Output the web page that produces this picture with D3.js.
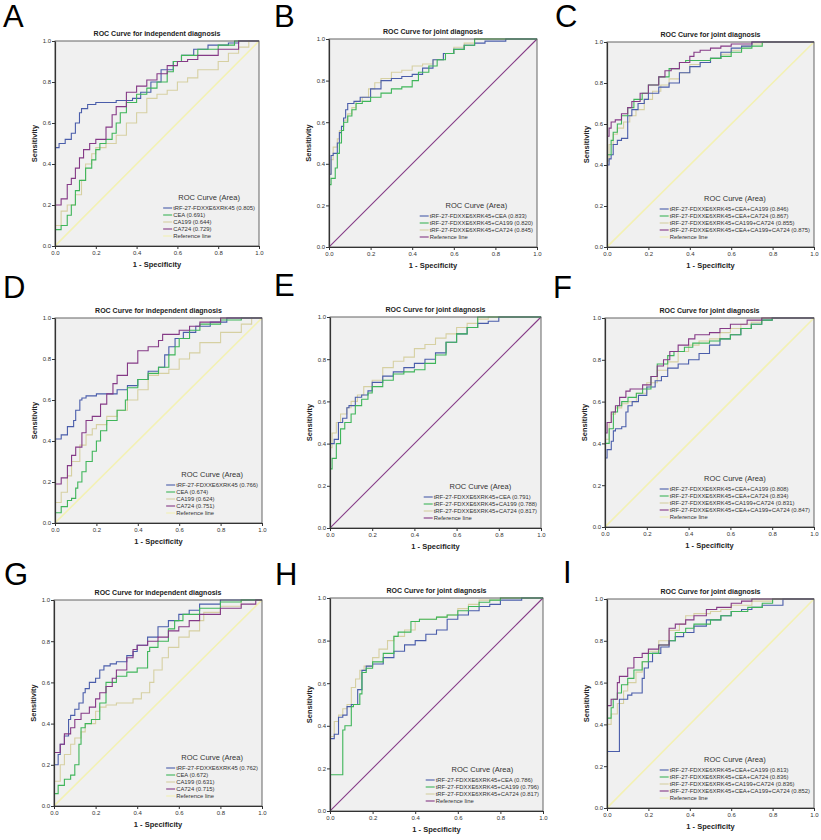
<!DOCTYPE html>
<html lang="en">
<head>
<meta charset="utf-8">
<title>ROC curves for independent and joint diagnosis</title>
<style>
  body { margin: 0; background: #fff; }
  svg text { font-family: "Liberation Sans", Arial, sans-serif; fill: #222; }
</style>
</head>
<body>
<script src="https://d3js.org/d3.v7.min.js"></script>
<script>
// ---- tick labels / titles ----
var tickValues = [0, 0.2, 0.4, 0.6, 0.8, 1.0];
var letters = ["A", "B", "C", "D", "E", "F", "G", "H", "I"];
var titles = ["ROC Curve for independent diagnosis", "ROC Curve for joint diagnosis", "ROC Curve for joint diagnosis",
              "ROC Curve for independent diagnosis", "ROC Curve for joint diagnosis", "ROC Curve for joint diagnosis",
              "ROC Curve for independent diagnosis", "ROC Curve for joint diagnosis", "ROC Curve for joint diagnosis"];

// ---- legend labels ----
var legendA = ["tRF-27-FDXXE6XRK45 (0.805)", "CEA (0.691)", "CA199 (0.644)", "CA724 (0.729)", "Reference line"];
var legendB = ["tRF-27-FDXXE6XRK45+CEA (0.833)", "tRF-27-FDXXE6XRK45+CA199 (0.820)", "tRF-27-FDXXE6XRK45+CA724 (0.845)", "Reference line"];
var legendC = ["tRF-27-FDXXE6XRK45+CEA+CA199 (0.846)", "tRF-27-FDXXE6XRK45+CEA+CA724 (0.867)", "tRF-27-FDXXE6XRK45+CA199+CA724 (0.855)", "tRF-27-FDXXE6XRK45+CEA+CA199+CA724 (0.875)", "Reference line"];
var legendD = ["tRF-27-FDXXE6XRK45 (0.766)", "CEA (0.674)", "CA199 (0.624)", "CA724 (0.751)", "Reference line"];
var legendE = ["tRF-27-FDXXE6XRK45+CEA (0.791)", "tRF-27-FDXXE6XRK45+CA199 (0.788)", "tRF-27-FDXXE6XRK45+CA724 (0.817)", "Reference line"];
var legendF = ["tRF-27-FDXXE6XRK45+CEA+CA199 (0.808)", "tRF-27-FDXXE6XRK45+CEA+CA724 (0.834)", "tRF-27-FDXXE6XRK45+CA199+CA724 (0.831)", "tRF-27-FDXXE6XRK45+CEA+CA199+CA724 (0.847)", "Reference line"];
var legendG = ["tRF-27-FDXXE6XRK45 (0.762)", "CEA (0.672)", "CA199 (0.631)", "CA724 (0.715)", "Reference line"];
var legendH = ["tRF-27-FDXXE6XRK45+CEA (0.786)", "tRF-27-FDXXE6XRK45+CA199 (0.796)", "tRF-27-FDXXE6XRK45+CA724 (0.817)", "Reference line"];
var legendI = ["tRF-27-FDXXE6XRK45+CEA+CA199 (0.813)", "tRF-27-FDXXE6XRK45+CEA+CA724 (0.836)", "tRF-27-FDXXE6XRK45+CA199+CA724 (0.836)", "tRF-27-FDXXE6XRK45+CEA+CA199+CA724 (0.852)", "Reference line"];

// ---- curves: [1 - specificity, sensitivity] ----
// panel A
var aTRF = [[0,0],[0,0.47],[0.02,0.48],[0.05,0.5],[0.08,0.52],[0.1,0.55],[0.12,0.6],[0.13,0.65],[0.16,0.67],[0.2,0.69],[0.3,0.7],[0.38,0.71],[0.42,0.72],[0.47,0.75],[0.52,0.8],[0.58,0.86],[0.62,0.9],[0.68,0.93],[0.75,0.96],[0.85,0.98],[0.9,0.99],[0.95,1],[1,1]];
var aCEA = [[0,0],[0,0.06],[0.03,0.08],[0.06,0.1],[0.08,0.15],[0.1,0.2],[0.12,0.27],[0.15,0.32],[0.18,0.38],[0.2,0.42],[0.22,0.47],[0.25,0.5],[0.28,0.52],[0.3,0.55],[0.32,0.6],[0.35,0.65],[0.4,0.7],[0.45,0.74],[0.5,0.77],[0.55,0.8],[0.58,0.85],[0.62,0.9],[0.7,0.93],[0.8,0.96],[0.88,0.98],[0.95,1],[1,1]];
var aCA199 = [[0,0],[0,0.02],[0.03,0.1],[0.06,0.17],[0.1,0.2],[0.13,0.25],[0.15,0.32],[0.18,0.4],[0.2,0.45],[0.25,0.48],[0.3,0.5],[0.35,0.54],[0.4,0.6],[0.45,0.65],[0.5,0.72],[0.55,0.74],[0.6,0.76],[0.65,0.8],[0.7,0.82],[0.8,0.86],[0.85,0.9],[0.9,0.94],[0.95,0.97],[1,1]];
var aCA724 = [[0,0],[0,0.12],[0,0.19],[0.03,0.2],[0.06,0.23],[0.08,0.3],[0.1,0.33],[0.12,0.38],[0.14,0.43],[0.17,0.47],[0.2,0.5],[0.25,0.52],[0.28,0.58],[0.3,0.64],[0.35,0.68],[0.4,0.75],[0.45,0.78],[0.5,0.81],[0.55,0.84],[0.6,0.88],[0.65,0.9],[0.7,0.91],[0.8,0.93],[0.9,0.96],[1,1]];
// panel B
var bCEA = [[0,0],[0,0.3],[0.01,0.35],[0.02,0.44],[0.04,0.45],[0.05,0.5],[0.06,0.55],[0.07,0.58],[0.08,0.62],[0.09,0.66],[0.12,0.69],[0.15,0.7],[0.2,0.72],[0.25,0.76],[0.3,0.8],[0.35,0.81],[0.4,0.82],[0.45,0.83],[0.5,0.86],[0.55,0.9],[0.6,0.93],[0.65,0.95],[0.7,0.97],[0.75,0.98],[0.85,0.99],[0.95,1],[1,1]];
var bCA199 = [[0,0],[0,0.22],[0.01,0.3],[0.03,0.33],[0.04,0.38],[0.05,0.45],[0.06,0.5],[0.07,0.56],[0.09,0.6],[0.11,0.63],[0.13,0.66],[0.16,0.69],[0.2,0.7],[0.25,0.72],[0.3,0.74],[0.35,0.76],[0.4,0.77],[0.43,0.8],[0.48,0.84],[0.52,0.87],[0.56,0.9],[0.6,0.93],[0.65,0.95],[0.7,0.97],[0.75,1],[1,1]];
var bCA724 = [[0,0],[0,0.25],[0.01,0.35],[0.02,0.42],[0.04,0.48],[0.05,0.52],[0.07,0.56],[0.09,0.61],[0.11,0.64],[0.13,0.67],[0.16,0.7],[0.19,0.72],[0.22,0.76],[0.25,0.79],[0.3,0.81],[0.35,0.84],[0.4,0.85],[0.45,0.87],[0.5,0.88],[0.55,0.9],[0.6,0.93],[0.65,0.96],[0.7,0.98],[0.75,1],[1,1]];
// panel C
var cCEA199 = [[0,0],[0,0.3],[0.01,0.4],[0.02,0.43],[0.03,0.45],[0.05,0.5],[0.07,0.52],[0.1,0.53],[0.1,0.6],[0.12,0.64],[0.15,0.67],[0.18,0.7],[0.2,0.72],[0.25,0.75],[0.3,0.78],[0.35,0.8],[0.4,0.85],[0.45,0.88],[0.5,0.9],[0.55,0.92],[0.6,0.95],[0.65,0.97],[0.7,0.98],[0.8,1],[1,1]];
var cCEA724 = [[0,0],[0,0.37],[0.02,0.45],[0.03,0.52],[0.05,0.56],[0.07,0.6],[0.1,0.64],[0.13,0.68],[0.17,0.72],[0.2,0.75],[0.25,0.79],[0.3,0.83],[0.35,0.87],[0.38,0.9],[0.42,0.91],[0.5,0.91],[0.55,0.92],[0.6,0.93],[0.65,0.95],[0.7,0.97],[0.75,0.98],[0.8,1],[1,1]];
var c199724 = [[0,0],[0,0.32],[0.01,0.42],[0.03,0.5],[0.05,0.55],[0.08,0.58],[0.11,0.61],[0.14,0.64],[0.18,0.67],[0.22,0.72],[0.26,0.76],[0.3,0.79],[0.35,0.82],[0.4,0.85],[0.45,0.89],[0.5,0.9],[0.55,0.92],[0.6,0.94],[0.65,0.96],[0.7,0.98],[0.75,0.99],[0.8,1],[1,1]];
var cAll = [[0,0],[0,0.42],[0.01,0.54],[0.02,0.58],[0.04,0.61],[0.07,0.62],[0.1,0.65],[0.12,0.68],[0.16,0.71],[0.2,0.75],[0.25,0.79],[0.28,0.83],[0.31,0.86],[0.35,0.87],[0.4,0.9],[0.42,0.93],[0.45,0.95],[0.5,0.96],[0.55,0.97],[0.6,0.98],[0.7,0.99],[0.8,1],[1,1]];
// panel D
var dTRF = [[0,0],[0,0.4],[0.03,0.41],[0.06,0.43],[0.09,0.47],[0.1,0.5],[0.12,0.55],[0.13,0.6],[0.15,0.61],[0.2,0.62],[0.3,0.63],[0.35,0.65],[0.4,0.67],[0.45,0.7],[0.5,0.74],[0.53,0.76],[0.55,0.82],[0.58,0.86],[0.62,0.9],[0.68,0.93],[0.75,0.96],[0.83,0.98],[0.88,1],[1,1]];
var dCEA = [[0,0],[0,0.03],[0.03,0.05],[0.06,0.08],[0.08,0.11],[0.1,0.12],[0.11,0.17],[0.13,0.2],[0.15,0.25],[0.18,0.3],[0.2,0.35],[0.22,0.4],[0.25,0.45],[0.3,0.5],[0.34,0.55],[0.35,0.6],[0.4,0.66],[0.45,0.7],[0.5,0.73],[0.55,0.76],[0.58,0.82],[0.6,0.86],[0.65,0.9],[0.7,0.94],[0.8,0.97],[0.9,0.99],[1,1]];
var dCA199 = [[0,0],[0,0.02],[0.03,0.1],[0.06,0.15],[0.08,0.23],[0.12,0.3],[0.15,0.38],[0.18,0.43],[0.2,0.46],[0.25,0.48],[0.3,0.52],[0.35,0.55],[0.4,0.6],[0.45,0.65],[0.5,0.72],[0.55,0.73],[0.6,0.75],[0.65,0.8],[0.7,0.83],[0.8,0.88],[0.9,0.93],[0.95,0.97],[1,1]];
var dCA724 = [[0,0],[0,0.1],[0,0.17],[0.03,0.19],[0.06,0.22],[0.08,0.28],[0.1,0.33],[0.13,0.37],[0.15,0.44],[0.18,0.5],[0.22,0.52],[0.25,0.58],[0.28,0.63],[0.3,0.68],[0.35,0.72],[0.4,0.78],[0.45,0.84],[0.5,0.86],[0.52,0.89],[0.6,0.92],[0.65,0.94],[0.7,0.96],[0.8,0.98],[0.85,1],[1,1]];
// panel E
var eCEA = [[0,0],[0,0.3],[0.02,0.4],[0.04,0.42],[0.06,0.5],[0.08,0.52],[0.09,0.57],[0.12,0.58],[0.15,0.62],[0.18,0.63],[0.2,0.65],[0.25,0.69],[0.3,0.72],[0.35,0.74],[0.4,0.76],[0.45,0.78],[0.5,0.8],[0.55,0.83],[0.6,0.88],[0.65,0.92],[0.7,0.95],[0.75,0.97],[0.8,0.98],[0.95,1],[1,1]];
var eCA199 = [[0,0],[0,0.2],[0.01,0.28],[0.03,0.33],[0.05,0.4],[0.07,0.47],[0.1,0.5],[0.12,0.54],[0.15,0.58],[0.18,0.61],[0.2,0.64],[0.25,0.67],[0.3,0.7],[0.35,0.73],[0.4,0.74],[0.45,0.75],[0.5,0.78],[0.55,0.82],[0.6,0.88],[0.65,0.92],[0.7,0.95],[0.75,1],[1,1]];
var eCA724 = [[0,0],[0,0.25],[0.01,0.38],[0.03,0.45],[0.05,0.5],[0.08,0.54],[0.1,0.57],[0.13,0.6],[0.16,0.63],[0.2,0.67],[0.25,0.7],[0.3,0.76],[0.35,0.79],[0.4,0.81],[0.45,0.85],[0.5,0.87],[0.55,0.9],[0.6,0.92],[0.65,0.95],[0.7,0.97],[0.75,0.99],[0.8,1],[1,1]];
// panel F
var fCEA199 = [[0,0],[0,0.27],[0.01,0.33],[0.03,0.37],[0.04,0.41],[0.05,0.46],[0.08,0.47],[0.1,0.48],[0.11,0.55],[0.13,0.58],[0.16,0.6],[0.2,0.63],[0.24,0.67],[0.27,0.7],[0.3,0.72],[0.35,0.76],[0.4,0.78],[0.45,0.8],[0.5,0.83],[0.55,0.87],[0.6,0.9],[0.65,0.92],[0.7,0.95],[0.75,0.97],[0.8,0.99],[0.85,1],[1,1]];
var fCEA724 = [[0,0],[0,0.33],[0.02,0.4],[0.04,0.47],[0.06,0.55],[0.08,0.58],[0.11,0.6],[0.15,0.62],[0.18,0.64],[0.22,0.66],[0.25,0.72],[0.3,0.78],[0.33,0.82],[0.38,0.84],[0.42,0.86],[0.5,0.88],[0.55,0.89],[0.6,0.9],[0.65,0.92],[0.7,0.95],[0.75,0.97],[0.8,0.99],[0.85,1],[1,1]];
var f199724 = [[0,0],[0,0.35],[0.02,0.42],[0.03,0.5],[0.05,0.54],[0.08,0.57],[0.11,0.59],[0.15,0.6],[0.2,0.64],[0.25,0.69],[0.3,0.75],[0.35,0.79],[0.4,0.84],[0.45,0.87],[0.5,0.89],[0.55,0.9],[0.6,0.93],[0.65,0.95],[0.7,0.97],[0.75,0.98],[0.8,1],[1,1]];
var fAll = [[0,0],[0,0.38],[0.01,0.45],[0.03,0.5],[0.05,0.55],[0.07,0.58],[0.1,0.62],[0.12,0.65],[0.18,0.66],[0.22,0.68],[0.25,0.72],[0.28,0.77],[0.31,0.8],[0.35,0.84],[0.4,0.87],[0.43,0.9],[0.5,0.92],[0.55,0.93],[0.6,0.95],[0.68,0.97],[0.75,0.99],[0.8,1],[1,1]];
// panel G
var gTRF = [[0,0],[0,0.1],[0.02,0.2],[0.03,0.25],[0.05,0.3],[0.07,0.34],[0.08,0.42],[0.1,0.44],[0.12,0.47],[0.14,0.5],[0.15,0.55],[0.17,0.57],[0.2,0.6],[0.22,0.62],[0.24,0.66],[0.27,0.68],[0.3,0.69],[0.35,0.7],[0.38,0.73],[0.4,0.75],[0.45,0.78],[0.5,0.82],[0.55,0.87],[0.6,0.9],[0.65,0.93],[0.7,0.95],[0.8,0.98],[0.9,1],[1,1]];
var gCEA = [[0,0],[0,0.03],[0.02,0.06],[0.05,0.1],[0.08,0.13],[0.1,0.15],[0.12,0.2],[0.13,0.3],[0.15,0.38],[0.18,0.4],[0.22,0.42],[0.25,0.5],[0.3,0.6],[0.35,0.63],[0.4,0.65],[0.45,0.67],[0.46,0.75],[0.5,0.77],[0.55,0.8],[0.58,0.86],[0.62,0.9],[0.7,0.93],[0.8,0.96],[0.9,0.99],[1,1]];
var gCA199 = [[0,0],[0,0.02],[0.03,0.12],[0.05,0.2],[0.08,0.25],[0.1,0.3],[0.13,0.33],[0.15,0.36],[0.2,0.4],[0.22,0.46],[0.25,0.48],[0.3,0.49],[0.38,0.5],[0.42,0.52],[0.46,0.55],[0.48,0.6],[0.52,0.66],[0.55,0.72],[0.6,0.77],[0.65,0.82],[0.7,0.85],[0.72,0.9],[0.8,0.94],[0.9,0.97],[1,1]];
var gCA724 = [[0,0],[0,0.2],[0.03,0.26],[0.05,0.3],[0.08,0.35],[0.1,0.38],[0.13,0.42],[0.17,0.45],[0.2,0.48],[0.22,0.52],[0.25,0.55],[0.28,0.58],[0.3,0.62],[0.35,0.66],[0.38,0.72],[0.4,0.76],[0.45,0.78],[0.5,0.8],[0.55,0.82],[0.6,0.85],[0.65,0.87],[0.7,0.9],[0.8,0.93],[0.9,0.96],[0.97,0.98],[1,1]];
// panel H
var hCEA = [[0,0],[0,0.17],[0.02,0.34],[0.04,0.36],[0.06,0.44],[0.08,0.45],[0.1,0.49],[0.13,0.5],[0.15,0.57],[0.17,0.66],[0.2,0.68],[0.25,0.69],[0.3,0.72],[0.35,0.75],[0.4,0.78],[0.45,0.8],[0.5,0.83],[0.55,0.85],[0.6,0.9],[0.65,0.92],[0.7,0.94],[0.75,0.96],[0.8,0.97],[0.9,0.99],[1,1]];
var hCA199 = [[0,0],[0,0.09],[0.02,0.17],[0.06,0.17],[0.07,0.38],[0.1,0.4],[0.11,0.49],[0.14,0.5],[0.15,0.55],[0.17,0.65],[0.2,0.67],[0.25,0.7],[0.3,0.74],[0.32,0.82],[0.38,0.84],[0.42,0.89],[0.5,0.9],[0.55,0.91],[0.6,0.92],[0.65,0.94],[0.7,0.96],[0.75,0.98],[0.8,0.99],[0.9,1],[1,1]];
var hCA724 = [[0,0],[0,0.33],[0.02,0.35],[0.04,0.42],[0.06,0.45],[0.08,0.48],[0.1,0.5],[0.12,0.58],[0.14,0.62],[0.16,0.66],[0.2,0.68],[0.23,0.72],[0.27,0.76],[0.3,0.8],[0.35,0.82],[0.4,0.85],[0.42,0.89],[0.5,0.9],[0.55,0.91],[0.6,0.92],[0.65,0.95],[0.7,0.97],[0.8,0.99],[0.9,1],[1,1]];
// panel I
var iCEA199 = [[0,0],[0,0.27],[0.06,0.27],[0.06,0.5],[0.1,0.52],[0.12,0.54],[0.17,0.55],[0.18,0.62],[0.2,0.67],[0.22,0.7],[0.26,0.74],[0.3,0.77],[0.33,0.8],[0.37,0.82],[0.42,0.84],[0.48,0.87],[0.55,0.9],[0.6,0.92],[0.65,0.94],[0.7,0.95],[0.75,0.96],[0.85,0.97],[0.85,0.99],[0.95,1],[1,1]];
var iCEA724 = [[0,0],[0,0.38],[0.02,0.43],[0.03,0.48],[0.05,0.52],[0.07,0.55],[0.1,0.59],[0.13,0.62],[0.17,0.66],[0.2,0.7],[0.25,0.74],[0.3,0.78],[0.33,0.8],[0.38,0.84],[0.42,0.86],[0.5,0.88],[0.55,0.9],[0.6,0.92],[0.68,0.94],[0.75,0.96],[0.8,0.98],[0.9,1],[1,1]];
var i199724 = [[0,0],[0,0.17],[0.02,0.4],[0.05,0.45],[0.08,0.5],[0.1,0.56],[0.14,0.6],[0.17,0.65],[0.2,0.7],[0.25,0.75],[0.3,0.8],[0.35,0.85],[0.38,0.88],[0.42,0.92],[0.5,0.93],[0.55,0.94],[0.6,0.95],[0.7,0.97],[0.8,0.99],[0.9,1],[1,1]];
var iAll = [[0,0],[0,0.38],[0.02,0.49],[0.05,0.52],[0.06,0.6],[0.1,0.63],[0.13,0.67],[0.17,0.72],[0.2,0.74],[0.25,0.76],[0.3,0.78],[0.33,0.86],[0.38,0.88],[0.42,0.9],[0.48,0.92],[0.53,0.95],[0.6,0.96],[0.65,0.98],[0.7,0.99],[0.8,1],[1,1]];

// SPSS-like colours
var blue = "#4a5daa", green = "#3fb55a", tan = "#d6d0a2", purple = "#853a86", yellow = "#f3f1b4";

var panels = [
  { curves: [aTRF, aCEA, aCA199, aCA724], legend: legendA, colors: [blue, green, tan, purple], ref: yellow },
  { curves: [bCEA, bCA199, bCA724], legend: legendB, colors: [blue, green, tan], ref: purple },
  { curves: [cCEA199, cCEA724, c199724, cAll], legend: legendC, colors: [blue, green, tan, purple], ref: yellow },
  { curves: [dTRF, dCEA, dCA199, dCA724], legend: legendD, colors: [blue, green, tan, purple], ref: yellow },
  { curves: [eCEA, eCA199, eCA724], legend: legendE, colors: [blue, green, tan], ref: purple },
  { curves: [fCEA199, fCEA724, f199724, fAll], legend: legendF, colors: [blue, green, tan, purple], ref: yellow },
  { curves: [gTRF, gCEA, gCA199, gCA724], legend: legendG, colors: [blue, green, tan, purple], ref: yellow },
  { curves: [hCEA, hCA199, hCA724], legend: legendH, colors: [blue, green, tan], ref: purple },
  { curves: [iCEA199, iCEA724, i199724, iAll], legend: legendI, colors: [blue, green, tan, purple], ref: yellow }
];

// plot rectangles and letter positions (pixels)
var layout = [
  { lx: 3,   ly: 27,  x0: 55,  x1: 259, y0: 41,  y1: 246 },
  { lx: 274, ly: 27,  x0: 329, x1: 537, y0: 39,  y1: 247 },
  { lx: 555, ly: 27,  x0: 607, x1: 814, y0: 42,  y1: 247 },
  { lx: 3,   ly: 298, x0: 55,  x1: 262, y0: 318, y1: 523 },
  { lx: 274, ly: 296, x0: 330, x1: 541, y0: 317, y1: 528 },
  { lx: 553, ly: 298, x0: 605, x1: 814, y0: 318, y1: 527 },
  { lx: 4,   ly: 585, x0: 54,  x1: 262, y0: 600, y1: 806 },
  { lx: 275, ly: 585, x0: 330, x1: 543, y0: 598, y1: 811 },
  { lx: 563, ly: 583, x0: 607, x1: 814, y0: 599, y1: 808 }
];

var w = 821, h = 840;
var svg = d3.select("body").append("svg").attr("width", w).attr("height", h);

panels.forEach(function(p, i) {
  var L = layout[i];
  var x = d3.scaleLinear().domain([0, 1]).range([L.x0, L.x1]);
  var y = d3.scaleLinear().domain([0, 1]).range([L.y1, L.y0]);
  var g = svg.append("g");

  // panel letter
  g.append("text").attr("x", L.lx).attr("y", L.ly)
    .attr("font-size", "31px").style("fill", "#000").text(letters[i]);

  // plot background
  g.append("rect").attr("x", L.x0).attr("y", L.y0)
    .attr("width", L.x1 - L.x0).attr("height", L.y1 - L.y0)
    .attr("fill", "#f0f0f0");

  var clipId = "clip" + i;
  g.append("clipPath").attr("id", clipId).append("rect")
    .attr("x", L.x0).attr("y", L.y0 - 1)
    .attr("width", L.x1 - L.x0 + 1).attr("height", L.y1 - L.y0 + 1);

  var plot = g.append("g").attr("clip-path", "url(#" + clipId + ")");

  // reference line
  plot.append("line")
    .attr("x1", x(0)).attr("y1", y(0)).attr("x2", x(1)).attr("y2", y(1))
    .attr("stroke", p.ref).attr("stroke-width", p.ref === yellow ? 1.6 : 1.1);

  var line = d3.line()
    .x(function(d) { return x(d[0]); })
    .y(function(d) { return y(d[1]); })
    .curve(d3.curveStepBefore);

  // draw the lightest first, then the others
  var order = p.curves.map(function(c, k) { return k; });
  order.sort(function(a, b) { return (p.colors[a] === tan ? -1 : 0) - (p.colors[b] === tan ? -1 : 0); });
  order.forEach(function(k) {
    plot.append("path").datum(p.curves[k])
      .attr("d", line)
      .attr("fill", "none")
      .attr("stroke", p.colors[k])
      .attr("stroke-width", 1.1);
  });

  // frame
  g.append("rect").attr("x", L.x0).attr("y", L.y0)
    .attr("width", L.x1 - L.x0).attr("height", L.y1 - L.y0)
    .attr("fill", "none").attr("stroke", "#555").attr("stroke-width", 0.9);

  // axes
  var fmt = d3.format(".1f");
  var xAxis = g.append("g").attr("transform", "translate(0," + L.y1 + ")")
    .call(d3.axisBottom(x).tickValues(tickValues).tickFormat(fmt).tickSize(3).tickSizeOuter(0).tickPadding(1.5));
  var yAxis = g.append("g").attr("transform", "translate(" + L.x0 + ",0)")
    .call(d3.axisLeft(y).tickValues(tickValues).tickFormat(fmt).tickSize(3).tickSizeOuter(0).tickPadding(1));
  [xAxis, yAxis].forEach(function(a) {
    a.select(".domain").attr("stroke", "#333").attr("stroke-width", 1.2);
    a.selectAll(".tick line").attr("stroke", "#333");
    a.selectAll(".tick text").attr("font-size", "6px").style("fill", "#333")
      .style("font-family", "'Liberation Sans', Arial, sans-serif");
  });

  // titles
  var cx = (L.x0 + L.x1) / 2, cy = (L.y0 + L.y1) / 2;
  g.append("text").attr("x", cx).attr("y", L.y0 - 5)
    .attr("text-anchor", "middle").attr("font-size", "7px").attr("font-weight", "bold")
    .text(titles[i]);
  g.append("text").attr("x", cx).attr("y", L.y1 + 21)
    .attr("text-anchor", "middle").attr("font-size", "7.5px").attr("font-weight", "bold")
    .text("1 - Specificity");
  g.append("text").attr("transform", "translate(" + (L.x0 - 18) + "," + cy + ") rotate(-90)")
    .attr("text-anchor", "middle").attr("font-size", "7.5px").attr("font-weight", "bold")
    .text("Sensitivity");

  // legend
  var lg = g.append("g");
  var step = 7, n = p.legend.length;
  var legendColors = p.colors.concat([p.ref]);
  var widest = 0;
  var items = p.legend.map(function(label, k) {
    var t = lg.append("text").attr("x", 0).attr("y", k * step + 2)
      .attr("font-size", "5.9px").style("fill", "#333").text(label);
    widest = Math.max(widest, t.node().getComputedTextLength());
    lg.append("line").attr("x1", -10).attr("x2", -1)
      .attr("y1", k * step).attr("y2", k * step)
      .attr("stroke", legendColors[k]).attr("stroke-width", 1.1);
    return t;
  });
  lg.append("text").attr("x", (widest - 10) / 2).attr("y", -8)
    .attr("text-anchor", "middle").attr("font-size", "7.5px").style("fill", "#333")
    .text("ROC Curve (Area)");
  var lx = L.x1 - 4 - widest;
  var ly = L.y1 - 10 - (n - 1) * step;
  lg.attr("transform", "translate(" + lx + "," + ly + ")");
});
</script>
</body>
</html>
